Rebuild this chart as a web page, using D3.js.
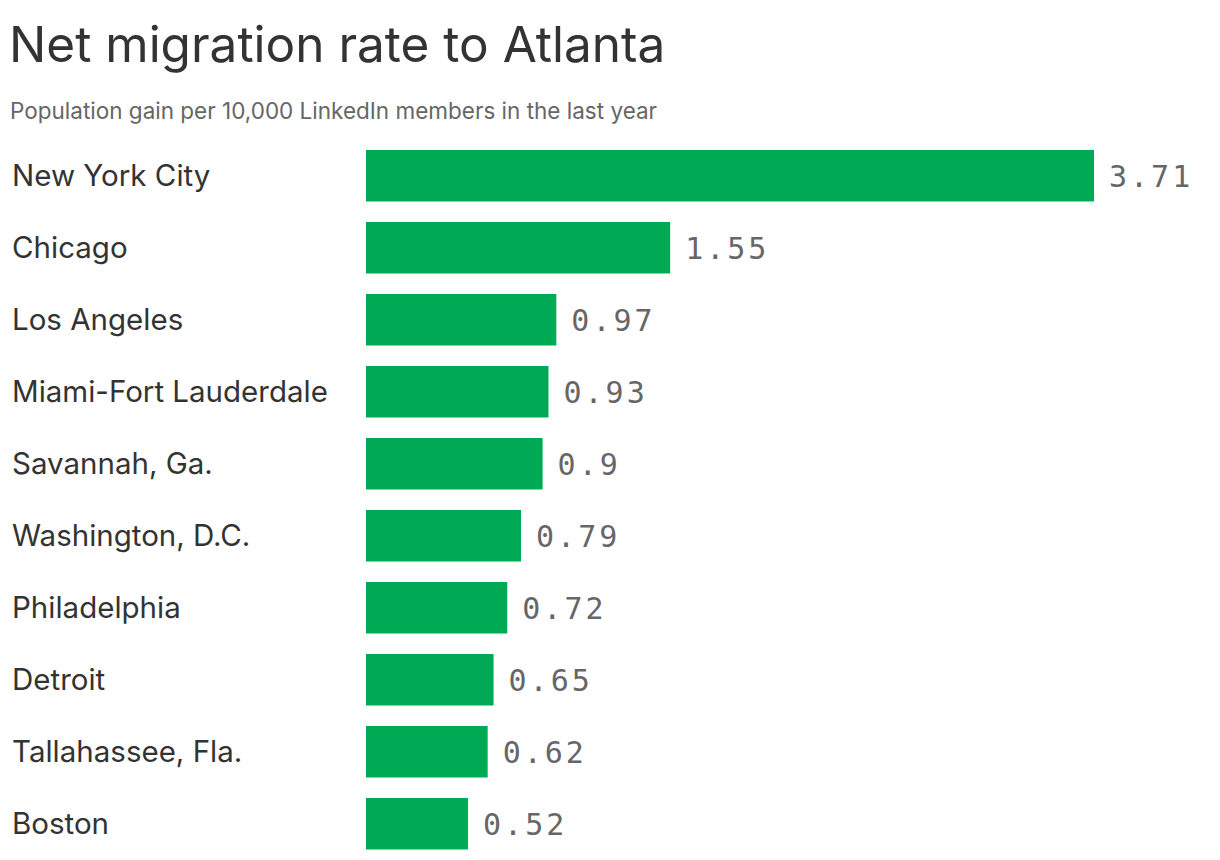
<!DOCTYPE html>
<html>
<head>
<meta charset="utf-8">
<script src="https://cdn.jsdelivr.net/npm/d3@7"></script>
<style>
  body { margin: 0; background: #fff; }
  svg text { font-family: Inter, Roboto, "Noto Sans", sans-serif; }
</style>
</head>
<body>
<svg id="chart" width="1220" height="860"></svg>
<script>
var cities = ["New York City", "Chicago", "Los Angeles", "Miami-Fort Lauderdale", "Savannah, Ga.",
    "Washington, D.C.", "Philadelphia", "Detroit", "Tallahassee, Fla.", "Boston"];
var rates = [3.71, 1.55, 0.97, 0.93, 0.9, 0.79, 0.72, 0.65, 0.62, 0.52];
var valueLabels = ["3.71", "1.55", "0.97", "0.93", "0.9", "0.79", "0.72", "0.65", "0.62", "0.52"];

var rows = cities.map(function(c, i) {
    return {city: c, rate: rates[i], label: valueLabels[i]};
});

var svg = d3.select("#chart");

svg.append("text")
    .attr("x", 9)
    .attr("y", 62)
    .attr("fill", "#333")
    .style("font-size", "49.5px")
    .text("Net migration rate to Atlanta");

svg.append("text")
    .attr("x", 10)
    .attr("y", 119)
    .attr("fill", "#666")
    .style("font-size", "22.5px")
    .text("Population gain per 10,000 LinkedIn members in the last year");

var x = d3.scaleLinear()
    .domain([0, 3.71])
    .range([366, 1094]);

var y = d3.scaleBand()
    .domain(cities)
    .range([150, 849.5])
    .paddingInner(0.285)
    .paddingOuter(0);

svg.selectAll("rect.bar")
    .data(rows)
    .enter().append("rect")
    .attr("class", "bar")
    .attr("fill", "#00aa55")
    .attr("x", x(0))
    .attr("y", function(d) { return y(d.city); })
    .attr("width", function(d) { return x(d.rate) - x(0); })
    .attr("height", y.bandwidth());

// city names on the left
svg.selectAll("text.city")
    .data(rows)
    .enter().append("text")
    .attr("class", "city")
    .attr("x", 12)
    .attr("y", function(d) { return y(d.city) + y.bandwidth() / 2; })
    .attr("dy", "0.35em")
    .attr("fill", "#333")
    .style("font-size", "29.5px")
    .text(function(d) { return d.city; });

// value labels after the bars
svg.selectAll("text.value")
    .data(rows)
    .enter().append("text")
    .attr("class", "value")
    .attr("x", function(d) { return x(d.rate) + 15; })
    .attr("y", function(d) { return y(d.city) + y.bandwidth() / 2; })
    .attr("dy", "0.36em")
    .attr("fill", "#666")
    .style("font-family", "'DejaVu Sans Mono', 'Liberation Mono', monospace")
    .style("font-size", "30px")
    .style("letter-spacing", "3px")
    .text(function(d) { return d.label; });
</script>
</body>
</html>
